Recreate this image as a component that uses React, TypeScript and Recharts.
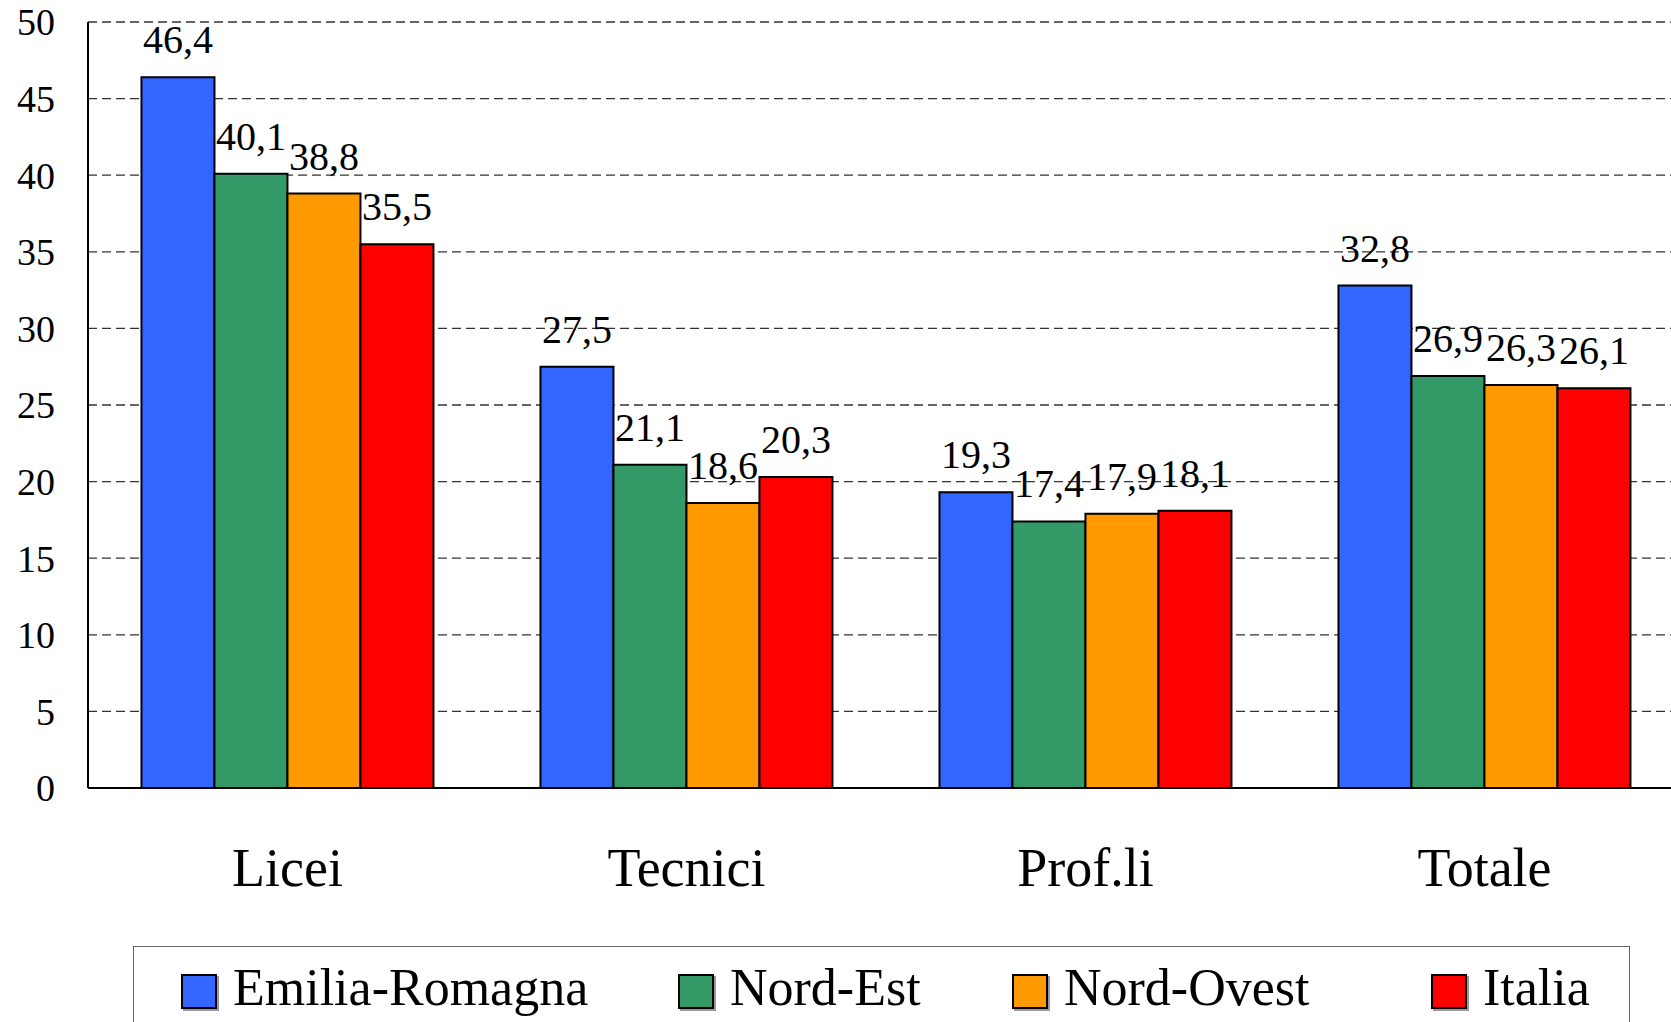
import { BarChart, Bar, XAxis, YAxis, CartesianGrid, LabelList } from "recharts";

const CATEGORIES = ["Licei", "Tecnici", "Prof.li", "Totale"];
const EMILIA_ROMAGNA = [46.4, 27.5, 19.3, 32.8];
const NORD_EST = [40.1, 21.1, 17.4, 26.9];
const NORD_OVEST = [38.8, 18.6, 17.9, 26.3];
const ITALIA = [35.5, 20.3, 18.1, 26.1];
const Y_TICKS = [0, 5, 10, 15, 20, 25, 30, 35, 40, 45, 50];

const SERIES = [
  { key: "er", name: "Emilia-Romagna", values: EMILIA_ROMAGNA, color: "#3366FF" },
  { key: "ne", name: "Nord-Est", values: NORD_EST, color: "#339966" },
  { key: "no", name: "Nord-Ovest", values: NORD_OVEST, color: "#FF9900" },
  { key: "it", name: "Italia", values: ITALIA, color: "#FF0000" },
];

const LEGEND_LEFT = [181, 678, 1012, 1431];

const FONT = '"Liberation Serif", "Times New Roman", serif';

const data = CATEGORIES.map((cat, i) => {
  const row: Record<string, string | number> = { cat };
  SERIES.forEach((s) => {
    row[s.key] = s.values[i];
  });
  return row;
});

const fmt = (v: unknown) => String(v).replace(".", ",");

export default function App() {
  return (
    <div
      style={{
        position: "absolute",
        left: 0,
        top: 0,
        width: 1671,
        height: 1022,
        overflow: "hidden",
        background: "#fff",
        fontFamily: FONT,
      }}
    >
      <BarChart
        width={1684}
        height={1022}
        data={data}
        margin={{ top: 22, right: 0, left: 0, bottom: 0 }}
        barGap={0}
        barCategoryGap="13.4%"
      >
        <CartesianGrid
          horizontal
          vertical={false}
          stroke="#333"
          strokeWidth={1.3}
          strokeDasharray="9 5"
        />
        <XAxis
          dataKey="cat"
          height={234}
          axisLine={{ stroke: "#000", strokeWidth: 2 }}
          tickLine={false}
          tickSize={0}
          tickMargin={60}
          tick={{ fontSize: 54, fill: "#000", fontFamily: FONT }}
        />
        <YAxis
          width={88}
          domain={[0, 50]}
          ticks={Y_TICKS}
          interval={0}
          axisLine={{ stroke: "#000", strokeWidth: 2 }}
          tickLine={false}
          tickSize={0}
          tickMargin={33}
          tick={{ fontSize: 38, fill: "#000", fontFamily: FONT }}
        />
        {SERIES.map((s) => (
          <Bar
            key={s.key}
            dataKey={s.key}
            name={s.name}
            fill={s.color}
            stroke="#000"
            strokeWidth={2}
            isAnimationActive={false}
          >
            <LabelList
              dataKey={s.key}
              position="top"
              offset={24}
              formatter={fmt}
              style={{ fontSize: 40, fill: "#000", fontFamily: FONT }}
            />
          </Bar>
        ))}
      </BarChart>
      <div
        style={{
          position: "absolute",
          left: 133,
          top: 946,
          width: 1497,
          height: 110,
          border: "1.5px solid #666",
          boxSizing: "border-box",
        }}
      />
      {SERIES.map((s, i) => (
        <div
          key={s.key}
          style={{
            position: "absolute",
            left: LEGEND_LEFT[i],
            top: 958,
            display: "flex",
            alignItems: "center",
            fontSize: 52,
            lineHeight: "60px",
            color: "#000",
            whiteSpace: "nowrap",
          }}
        >
          <span
            style={{
              display: "inline-block",
              width: 32,
              height: 31,
              background: s.color,
              border: "2px solid #000",
              boxShadow: "2px 2px 0 #999",
              marginRight: 16,
              marginTop: 6,
            }}
          />
          {s.name}
        </div>
      ))}
    </div>
  );
}
